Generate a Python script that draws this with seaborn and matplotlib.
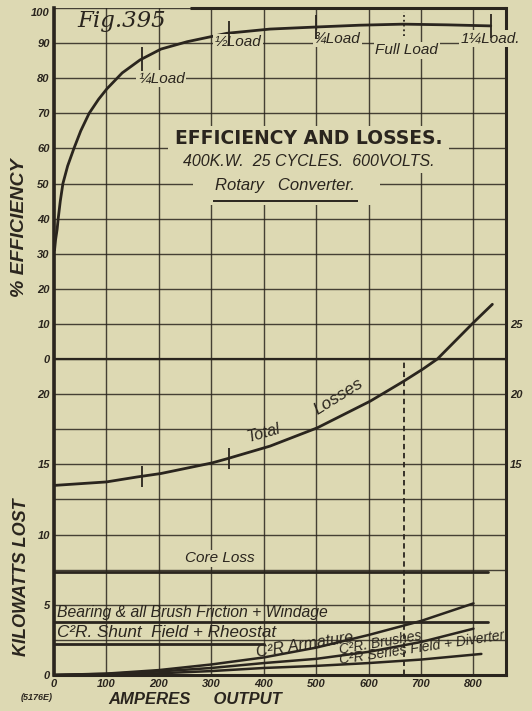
import numpy as np
import pandas as pd
import matplotlib
matplotlib.use("Agg")
import matplotlib.pyplot as plt
from matplotlib.patches import Rectangle
import seaborn as sns
from matplotlib.ticker import MultipleLocator

# ---- Rotary converter test, 400 kW, 25 cycles, 600 volts ----
# efficiency curve (amperes output, per cent)
eff_amps = [1, 3, 6, 8, 12, 17, 26, 38, 51, 67, 85, 101, 130, 164, 204, 254, 330, 412, 502, 583, 666, 750, 833]
eff_pct = [31, 34, 37, 40, 45, 50, 55, 60, 65, 70, 74, 77, 81.5, 85.2, 88.3, 90.4, 92.8, 94.0, 94.6, 95.1, 95.4, 95.2, 94.9]

# total losses (amperes, kW)
total_amps = [0, 100, 158, 204, 301, 330, 412, 502, 603, 666, 704, 731, 800, 836]
total_kw = [13.5, 13.75, 14.1, 14.35, 15.1, 15.4, 16.3, 17.6, 19.5, 20.9, 21.8, 22.5, 25.1, 26.4]

# constant losses (kW) and the current range they are drawn over
core_loss_kw = 7.35
bearing_windage_kw = 3.8
shunt_field_kw = 2.2
const_amps = [0, 828]
shunt_amps = [0, 400]

# variable C2R losses
var_amps = [0, 100, 200, 300, 400, 500, 600, 700, 800]
armature_kw = [0, 0.1, 0.35, 0.75, 1.25, 1.95, 2.85, 3.85, 5.1]
brushes_kw = [0, 0.08, 0.25, 0.5, 0.85, 1.15, 1.65, 2.35, 3.3]
series_amps = [0, 100, 200, 300, 400, 500, 600, 700, 815]
series_kw = [0, 0.03, 0.12, 0.28, 0.5, 0.65, 0.85, 1.1, 1.5]

# load points (amperes)
load_names = ["¼", "½", "¾", "Full", "1¼"]
load_amps = [167, 333, 500, 667, 833]
full_load_amps = 667

# axis ticks
amp_ticks = [0, 100, 200, 300, 400, 500, 600, 700, 800]
kw_left_ticks = [0, 5, 10, 15, 20]
kw_right_ticks = [15, 20, 25]
eff_ticks = [0, 10, 20, 30, 40, 50, 60, 70, 80, 90, 100]

# efficiency scale sits on top of the kW scale: 0 % at 22.5 kW, 100 % at 47.5 kW
EFF_ZERO_KW = 22.5
KW_PER_PCT = 0.25
KW_TOP = EFF_ZERO_KW + 100 * KW_PER_PCT
AMP_MAX = 862

BG = "#ddd9b3"
INK = "#2a251e"

sns.set_theme(style="white", rc={"axes.facecolor": BG, "figure.facecolor": BG})
plt.rcParams["font.family"] = ["Liberation Sans", "DejaVu Sans"]

fig = plt.figure(figsize=(5.32, 7.11), dpi=100)
ax = fig.add_axes([54 / 532, 1 - 675 / 711, 452 / 532, 667 / 711])
ax.set_xlim(0, AMP_MAX)
ax.set_ylim(0, KW_TOP)

ax_eff = ax.twinx()
ax_eff.set_ylim(-EFF_ZERO_KW / KW_PER_PCT, 100)
ax_eff.patch.set_visible(False)
for s in ax_eff.spines.values():
    s.set_visible(False)

tick_font = dict(fontsize=8, fontweight="bold", fontstyle="italic", color=INK)

# grid
ax.set_xticks(amp_ticks)
ax.set_xticklabels([str(a) for a in amp_ticks], **tick_font)
ax.set_yticks(kw_left_ticks)
ax.set_yticklabels([str(k) for k in kw_left_ticks], **tick_font)
ax.yaxis.set_minor_locator(MultipleLocator(2.5))
ax.grid(True, which="both", color=INK, linewidth=1.0, alpha=0.85)
ax.grid(False, which="minor", axis="x")
ax.tick_params(length=0, pad=3)
ax.tick_params(which="minor", length=0)
ax.set_axisbelow(True)

ax_eff.yaxis.set_ticks_position("left")
ax_eff.set_yticks(eff_ticks)
ax_eff.set_yticklabels([str(e) for e in eff_ticks], **tick_font)
ax_eff.tick_params(length=0, pad=3)
for lab in ax_eff.get_yticklabels():
    if lab.get_text() == "100":
        lab.set_va("top")

sec = ax.secondary_yaxis("right")
sec.set_yticks(kw_right_ticks)
sec.set_yticklabels([str(k) for k in kw_right_ticks], **tick_font)
sec.tick_params(length=0, pad=3)
sec.spines["right"].set_visible(False)

for side in ["left", "right", "bottom"]:
    ax.spines[side].set_color(INK)
ax.spines["left"].set_linewidth(2.6)
ax.spines["bottom"].set_linewidth(2.2)
ax.spines["right"].set_linewidth(2.2)
ax.spines["top"].set_visible(False)
ax.hlines(KW_TOP, 260, AMP_MAX, color=INK, lw=2.2, clip_on=False, zorder=5)
ax.axhline(EFF_ZERO_KW, color=INK, lw=1.6, zorder=1)

# clear paper behind the title block
ax_eff.add_patch(Rectangle((218, 53), 535, 13.5, fc=BG, ec="none", zorder=1.5))
ax_eff.add_patch(Rectangle((265, 44), 357, 9.5, fc=BG, ec="none", zorder=1.5))

line_kw = dict(color=INK, linewidth=2.0, legend=False)

# efficiency curve
eff_df = pd.DataFrame({"amps": eff_amps, "eff": eff_pct})
sns.lineplot(data=eff_df, x="amps", y="eff", ax=ax_eff, sort=False, **line_kw)

# load markers on the efficiency curve
eff_at_load = np.interp(load_amps, eff_amps, eff_pct)
for name, a, e in zip(load_names, load_amps, eff_at_load):
    style = ":" if name == "Full" else "-"
    ax_eff.vlines(a, e - 3.5, e + 3.5, color=INK, lw=1.3, linestyles=style, zorder=4)

# losses
total_df = pd.DataFrame({"amps": total_amps, "kw": total_kw})
sns.lineplot(data=total_df, x="amps", y="kw", ax=ax, sort=False, **line_kw)
total_at_load = np.interp(load_amps[:2], total_amps, total_kw)
for a, k in zip(load_amps[:2], total_at_load):
    ax.vlines(a, k - 0.75, k + 0.75, color=INK, lw=1.3)

const_df = pd.DataFrame({
    "amps": const_amps * 2,
    "kw": [core_loss_kw] * 2 + [bearing_windage_kw] * 2,
    "name": ["core"] * 2 + ["bearing"] * 2,
})
sns.lineplot(data=const_df, x="amps", y="kw", units="name", estimator=None, ax=ax, **line_kw)
shunt_df = pd.DataFrame({"amps": shunt_amps, "kw": [shunt_field_kw] * 2})
sns.lineplot(data=shunt_df, x="amps", y="kw", ax=ax, **line_kw)

var_df = pd.DataFrame({
    "amps": var_amps * 2 + series_amps,
    "kw": armature_kw + brushes_kw + series_kw,
    "name": ["arm"] * 9 + ["brush"] * 9 + ["series"] * 9,
})
sns.lineplot(data=var_df, x="amps", y="kw", units="name", estimator=None, ax=ax,
             color=INK, linewidth=1.8, legend=False)

ax.vlines(full_load_amps, 0, EFF_ZERO_KW, color=INK, lw=1.3, linestyles=(0, (3, 2)))

ax.set_xlabel("")
ax.set_ylabel("")
ax_eff.set_ylabel("")

# ---- text ----
mask = dict(boxstyle="square,pad=0.1", fc=BG, ec="none")
note = dict(fontstyle="italic", color=INK, fontsize=11)


def on_curve(text, a, amps, kws, lift, angle, size):
    """Write a label whose baseline runs just above a loss curve."""
    k = np.interp(a, amps, kws) + lift
    ax.text(a, k, text, ha="left", va="baseline", rotation=angle, rotation_mode="anchor",
            fontsize=size, fontstyle="italic", color=INK, clip_on=False, zorder=3)


fig.text(77 / 532, 1 - 21 / 711, "Fig.395", family="DejaVu Serif", fontstyle="italic",
         fontsize=16.5, color=INK, va="center")

ax_eff.text(485, 62.7, "EFFICIENCY AND LOSSES.", ha="center", va="center", fontsize=13.5,
            fontweight="bold", family="DejaVu Sans", color=INK, zorder=6)
ax_eff.text(485, 56.4, "400K.W.  25 CYCLES.  600VOLTS.", ha="center", va="center", fontsize=11.5,
            fontstyle="italic", color=INK, zorder=6)
ax_eff.text(441, 49.3, "Rotary   Converter.", ha="center", va="center", fontsize=12,
            fontstyle="italic", color=INK, zorder=6)
ax_eff.hlines(45, 303, 580, color=INK, lw=1.4, zorder=6)

ax_eff.text(160, 80, "¼Load", ha="left", va="center", bbox=mask, **note)
ax_eff.text(307, 90.3, "½Load", ha="left", va="center", bbox=mask, **note)
ax_eff.text(496, 91.4, "¾Load", ha="left", va="center", bbox=mask, **note)
ax_eff.text(613, 88, "Full Load", ha="left", va="center", bbox=mask, **note)
ax_eff.text(775, 91.4, "1¼Load.", ha="left", va="center", bbox=mask, **note)

ax.text(250, 8.3, "Core Loss", ha="left", va="center", bbox=mask, fontsize=11,
        fontstyle="italic", color=INK)
ax.text(5, 4.45, "Bearing & all Brush Friction + Windage", ha="left", va="center",
        fontsize=11.3, fontstyle="italic", color=INK)
ax.text(5, 3.0, "C²R. Shunt  Field + Rheostat", ha="left", va="center",
        fontsize=12.3, fontstyle="italic", color=INK)

on_curve("C²R Armature", 387, var_amps, armature_kw, 0.1, 9, 11.5)
on_curve("C²R. Brushes", 546, var_amps, brushes_kw, 0.1, 10, 10)
on_curve("C²R Series Field + Diverter", 546, series_amps, series_kw, 0.05, 8.5, 10)

ax.text(365, 17.2, "Total", ha="left", va="center", rotation=16, fontsize=11.5,
        fontstyle="italic", color=INK)
ax.text(490, 19.8, "Losses", ha="left", va="center", rotation=32, fontsize=12.5,
        fontstyle="italic", color=INK)

label_font = dict(fontweight="bold", fontstyle="italic", color=INK)
fig.text(20 / 532, 1 - 228 / 711, "% EFFICIENCY", rotation=90, ha="center", va="center",
         fontsize=14, **label_font)
fig.text(22 / 532, 1 - 577 / 711, "KILOWATTS LOST", rotation=90, ha="center", va="center",
         fontsize=13, **label_font)
fig.text(195 / 532, 1 - 699 / 711, "AMPERES     OUTPUT", ha="center", va="center",
         fontsize=12, **label_font)
fig.text(37 / 532, 1 - 698 / 711, "(5176E)", ha="center", va="center", fontsize=6.5,
         fontstyle="italic", fontweight="bold", color=INK)

fig.savefig("out.png", dpi=100, facecolor=BG)
